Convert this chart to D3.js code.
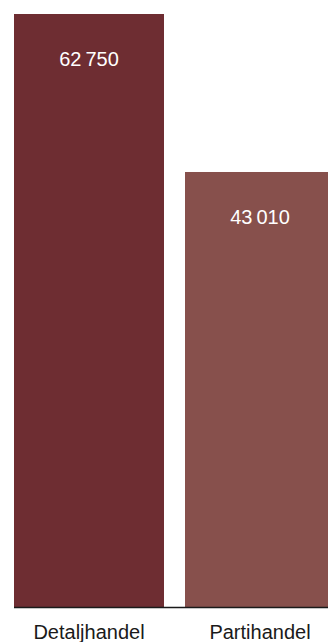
<!DOCTYPE html>
<html>
<head>
<meta charset="utf-8">
<script src="https://cdn.jsdelivr.net/npm/d3@7/dist/d3.min.js"></script>
<style>
  html, body { margin: 0; padding: 0; background: #ffffff; }
  svg { display: block; font-family: 'Liberation Sans', Arial, sans-serif; }
</style>
</head>
<body>
<div id="chart"></div>
<script>
// chart data
const categories = ['Detaljhandel', 'Partihandel']
const values = [62750, 43010]
const valueLabels = ['62\u2009750', '43\u2009010']
const barColors = ['#6e2d32', '#87504c']
// value axis extent (bars do not start at zero)
const yDomain = [-11340, 62750]

const width = 328
const height = 642

const svg = d3.select('#chart')
  .append('svg')
  .attr('width', width)
  .attr('height', height)

const x = d3.scaleBand()
  .domain(categories)
  .range([14, 335])
  .paddingInner(0.1228)
  .paddingOuter(0)

const y = d3.scaleLinear()
  .domain(yDomain)
  .range([607, 14])

const bars = svg.append('g')
categories.forEach((c, i) => {
  bars.append('rect')
    .attr('x', x(c))
    .attr('y', y(values[i]))
    .attr('width', x.bandwidth())
    .attr('height', y(yDomain[0]) - y(values[i]))
    .attr('fill', barColors[i])

  bars.append('text')
    .attr('x', x(c) + x.bandwidth() / 2)
    .attr('y', y(values[i]) + 52)
    .attr('text-anchor', 'middle')
    .attr('font-size', 20)
    .attr('fill', '#ffffff')
    .text(valueLabels[i])
})

// baseline + category labels
const xAxis = d3.axisBottom(x).tickSize(0).tickPadding(17)
const gx = svg.append('g')
  .attr('transform', `translate(0,${y(yDomain[0]) + 0.5})`)
  .call(xAxis)
gx.select('.domain').attr('stroke', '#1a1a1a').attr('stroke-width', 1.5)
  .attr('d', `M14,0H${width}`)
gx.selectAll('text')
  .attr('font-size', 20)
  .attr('font-family', "'Liberation Sans', Arial, sans-serif")
  .attr('fill', '#1a1a1a')
</script>
</body>
</html>
